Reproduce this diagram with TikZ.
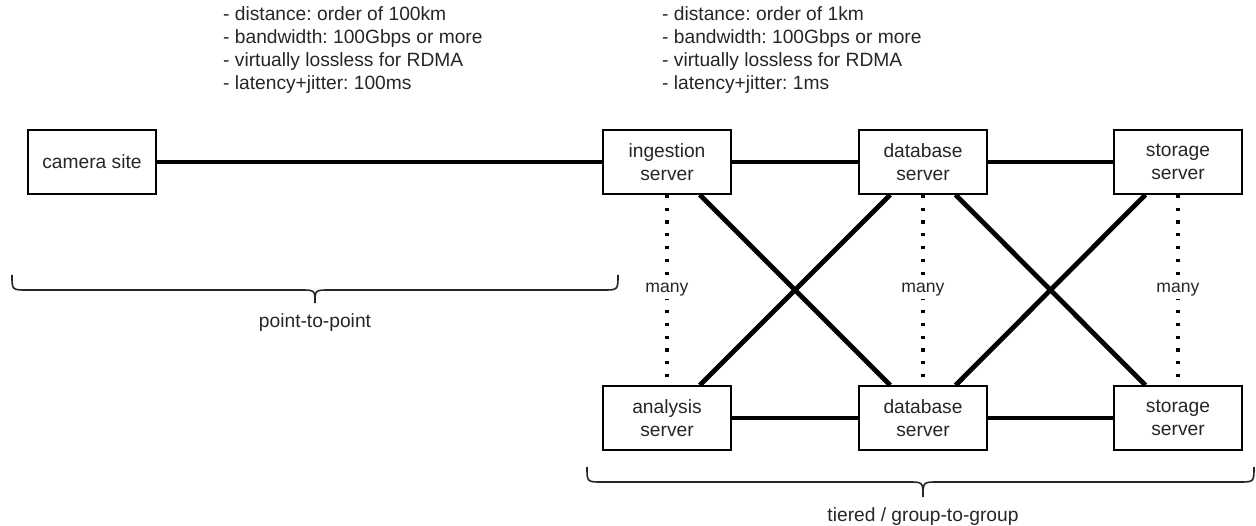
\documentclass[tikz,border=0pt]{standalone}
\usepackage{fontspec}
\setmainfont{Liberation Sans}
\frenchspacing
\begin{document}
\begin{tikzpicture}[x=1pt,y=-1pt,
  txt/.style={text=black!85},
  box/.style={draw=black, line width=1.6pt, fill=white, minimum width=128pt,
    minimum height=64pt, inner sep=0pt, align=center, txt,
    font=\fontsize{19.2}{23}\selectfont},
  link/.style={line width=4.8pt, line cap=butt},
  manyline/.style={line width=3.2pt, dash pattern=on 3.2pt off 9.6pt},
  manylbl/.style={fill=white, inner sep=2pt, txt, font=\fontsize{17.6}{21}\selectfont},
  brace/.style={draw=black!85, line width=1.6pt},
  note/.style={align=left, inner sep=0pt, anchor=base west, txt,
    font=\fontsize{19.2}{23}\selectfont},
  caption/.style={inner sep=0pt, anchor=base, txt, font=\fontsize{19.2}{23}\selectfont}]
\useasboundingbox (0,0) rectangle (1256,526);

% link characteristics (placed by the baseline of their last line)
\node[note] (farnote) at (223,90) {- distance: order of 100km\\- bandwidth: 100Gbps or more\\- virtually lossless for RDMA\\- latency+jitter: 100ms};
\node[note] (nearnote) at (662,90) {- distance: order of 1km\\- bandwidth: 100Gbps or more\\- virtually lossless for RDMA\\- latency+jitter: 1ms};

% servers
\node[box] (cam) at (92,162) {camera site};
\node[box] (ing) at (667,162) {ingestion\\server};
\node[box] (dbA) at (923,162) {database\\server};
\node[box] (stA) at (1178,162) {storage\\server};
\node[box] (ana) at (667,418) {analysis\\server};
\node[box] (dbB) at (923,418) {database\\server};
\node[box] (stB) at (1178,418) {storage\\server};

% "many" stacks
\draw[manyline] (ing) -- node[manylbl] (m1) {many} (ana);
\draw[manyline] (dbA) -- node[manylbl] (m2) {many} (dbB);
\draw[manyline] (stA) -- node[manylbl] (m3) {many} (stB);

% network links
\draw[link] (cam) -- (ing);
\draw[link] (ing) -- (dbA);
\draw[link] (dbA) -- (stA);
\draw[link] (ana) -- (dbB);
\draw[link] (dbB) -- (stB);
\draw[link] (ing) -- (dbB);
\draw[link] (dbA) -- (ana);
\draw[link] (dbA) -- (stB);
\draw[link] (stA) -- (dbB);

% redraw the boxes on top of the link ends
\foreach \n/\t in {ing/ingestion\\server, dbA/database\\server, stA/storage\\server,
                   ana/analysis\\server, dbB/database\\server, stB/storage\\server}
  \node[box] at (\n) {\t};
\node[box] at (cam) {camera site};

% braces
\coordinate (pL) at (12,275);
\coordinate (pR) at (618,275);
\draw[brace] (pL) .. controls (12,290) .. (27,290) -- (300,290)
  .. controls (315,290) .. (315,303) .. controls (315,290) .. (330,290)
  -- (603,290) .. controls (618,290) .. (pR);
\node[caption] (p2p) at (315,328) {point-to-point};

\coordinate (tL) at (587,467);
\coordinate (tR) at (1254,467);
\draw[brace] (tL) .. controls (587,482) .. (602,482) -- (908,482)
  .. controls (923,482) .. (923,497) .. controls (923,482) .. (938,482)
  -- (1239,482) .. controls (1254,482) .. (tR);
\node[caption] (g2g) at (923,521) {tiered / group-to-group};
\end{tikzpicture}
\end{document}
